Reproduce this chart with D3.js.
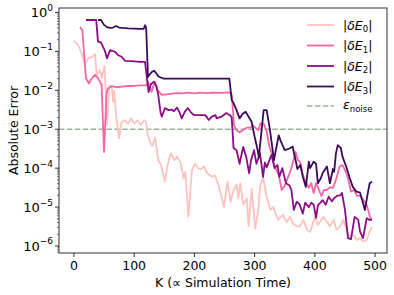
<!DOCTYPE html>
<html>
<head>
<meta charset="utf-8">
<script src="https://cdn.jsdelivr.net/npm/d3@7"></script>
<style>
  body { margin: 0; background: #fff; }
  svg text { font-family: "DejaVu Sans", sans-serif; fill: #000; }
</style>
</head>
<body>
<svg id="chart" width="394" height="295"></svg>
<script>
// K values and absolute errors
const kE0 = [0, 7, 13, 18, 24, 29, 35, 38, 43, 46, 51, 55, 59, 63, 65, 67, 70, 75, 79, 84, 90, 95, 100, 106, 111, 117, 120, 123, 127, 130, 135, 140, 145, 151, 156, 161, 167, 171, 177, 182, 185, 190, 196, 201, 206, 211, 216, 221, 229, 234, 240, 245, 249, 255, 260, 265, 270, 273, 276, 281, 287, 290, 295, 301, 306, 309, 314, 320, 326, 331, 339, 347, 353, 359, 364, 370, 375, 381, 387, 392, 400, 405, 414, 420, 425, 431, 436, 442, 447, 453, 458, 464, 470, 475, 480, 486, 492, 495];
const vE0 = [0.19, 0.146, 0.088, 0.05, 0.066, 0.07, 0.085, 0.025, 0.033, 0.021, 0.042, 0.0013, 0.013, 0.0115, 0.0051, 0.0098, 0.0023, 0.00058, 0.0015, 0.0017, 0.0014, 0.0019, 0.0014, 0.0017, 0.0013, 0.0017, 0.0015, 0.00067, 0.00045, 0.00037, 0.0006, 0.00016, 0.00012, 4.5e-5, 0.00013, 0.00024, 0.00016, 0.0002, 0.00014, 5.5e-5, 8e-5, 5.7e-6, 8.9e-5, 0.00013, 0.0001, 9.5e-5, 0.00011, 7.5e-5, 6e-5, 6.5e-5, 3.7e-5, 1.85e-5, 1.0e-5, 4.5e-5, 1.37e-5, 2.75e-5, 3.8e-5, 1.66e-5, 4.1e-5, 1.15e-5, 1.7e-5, 3.2e-6, 2.95e-5, 2.8e-6, 8.5e-6, 3.3e-5, 6e-5, 1.85e-5, 8.5e-6, 1.0e-5, 4.7e-6, 6.3e-6, 4.1e-6, 5.6e-6, 3.7e-6, 3.2e-6, 3.2e-6, 4.7e-6, 2.6e-6, 2.3e-6, 5.6e-6, 3.5e-6, 5.6e-6, 4.2e-6, 3.2e-6, 4.7e-6, 2.6e-6, 3.2e-6, 4.7e-6, 2.6e-6, 1.8e-6, 1.9e-6, 1.43e-6, 1.6e-6, 1.3e-6, 1.43e-6, 2.6e-6, 3.1e-6];

const kE1 = [10, 14, 20, 25, 29, 35, 40, 46, 50, 54, 56, 63, 70, 80, 90, 100, 110, 120, 123, 129, 134, 139, 146, 154, 170, 180, 190, 200, 210, 220, 230, 245, 258, 262, 266, 270, 275, 281, 287, 293, 297, 302, 306, 310, 315, 320, 324, 329, 333, 340, 345, 350, 355, 360, 365, 368, 372, 376, 380, 385, 390, 394, 398, 402, 407, 411, 415, 420, 425, 430, 436, 441, 446, 450, 455, 460, 465, 470, 475, 480, 486, 492, 495];
const vE1 = [0.42, 0.355, 0.0205, 0.015, 0.0195, 0.025, 0.0205, 0.0137, 0.00026, 0.0076, 0.011, 0.0129, 0.012, 0.0125, 0.0129, 0.013, 0.0134, 0.0134, 0.0167, 0.0092, 0.0167, 0.010, 0.0076, 0.0079, 0.0085, 0.0083, 0.0087, 0.0083, 0.0087, 0.0085, 0.0087, 0.0086, 0.0088, 0.0076, 0.00122, 0.00095, 0.00083, 0.00095, 0.0011, 0.0011, 0.00125, 0.00107, 0.00095, 0.00143, 0.0014, 0.0009, 0.00039, 0.00022, 0.00011, 6.7e-5, 2.75e-5, 3.6e-5, 5.6e-5, 8.9e-5, 0.00017, 0.00026, 0.00016, 0.00014, 6.7e-5, 4.4e-5, 3.1e-5, 4.1e-5, 2.3e-5, 4.1e-5, 2.75e-5, 1.9e-5, 2.75e-5, 2.75e-5, 3.2e-5, 3.1e-5, 5.6e-5, 0.00011, 0.00012, 8.9e-5, 5.6e-5, 2.5e-5, 2.75e-5, 1.95e-5, 1.95e-5, 1.55e-5, 1.15e-5, 5.2e-6, 5e-6];

const kE2 = [20, 30, 37, 40, 45, 51, 55, 60, 68, 73, 79, 85, 95, 110, 118, 124, 128, 133, 137, 140, 144, 146, 151, 157, 162, 166, 171, 175, 179, 184, 189, 195, 200, 210, 218, 224, 229, 235, 237, 245, 253, 259, 262, 265, 270, 275, 281, 286, 291, 294, 299, 303, 309, 314, 317, 320, 328, 333, 338, 341, 346, 352, 358, 361, 365, 370, 375, 380, 384, 390, 394, 398, 402, 405, 413, 418, 423, 428, 432, 437, 442, 445, 450, 455, 460, 466, 472, 475, 480, 486, 490, 495];
const vE2 = [0.64, 0.64, 0.64, 0.178, 0.168, 0.108, 0.066, 0.108, 0.098, 0.081, 0.073, 0.057, 0.056, 0.054, 0.054, 0.009, 0.0145, 0.0167, 0.0129, 0.0076, 0.0026, 0.0021, 0.0035, 0.0031, 0.0032, 0.0029, 0.0036, 0.0028, 0.0019, 0.0028, 0.0035, 0.0026, 0.0023, 0.0023, 0.0023, 0.00173, 0.0021, 0.0023, 0.0019, 0.0021, 0.0026, 0.0023, 0.002, 0.00033, 0.00029, 0.00013, 0.00035, 0.000195, 7.4e-5, 0.00016, 0.00029, 0.00013, 0.00024, 6e-5, 0.00014, 0.000105, 0.00022, 0.0001, 0.00012, 6e-5, 0.0001, 4.1e-5, 3.6e-5, 2.75e-5, 8.5e-6, 1.37e-5, 1.15e-5, 6.8e-6, 1.3e-5, 1.0e-5, 1.3e-5, 1.15e-5, 5.3e-6, 1.1e-5, 1.5e-5, 1.15e-5, 1.85e-5, 1.4e-5, 1.7e-5, 1.95e-5, 2.0e-5, 2.3e-5, 8.5e-6, 1.6e-6, 1.5e-6, 5.6e-6, 4.7e-6, 2.35e-6, 1.6e-6, 5.2e-6, 4.7e-6, 4.7e-6];

const kE3 = [40, 45, 50, 55, 60, 65, 70, 75, 80, 90, 100, 110, 116, 118, 120, 123, 125, 130, 133, 137, 140, 145, 150, 170, 200, 230, 258, 262, 265, 270, 275, 280, 285, 290, 295, 300, 305, 307, 315, 320, 325, 330, 332, 340, 343, 350, 358, 363, 368, 371, 376, 380, 385, 390, 392, 398, 402, 405, 410, 413, 420, 425, 430, 432, 435, 438, 443, 446, 452, 458, 463, 469, 475, 480, 483, 488, 491, 495];
const vE3 = [0.64, 0.64, 0.48, 0.42, 0.40, 0.41, 0.45, 0.41, 0.40, 0.39, 0.385, 0.38, 0.38, 0.47, 0.40, 0.022, 0.025, 0.030, 0.032, 0.027, 0.023, 0.021, 0.020, 0.020, 0.020, 0.020, 0.020, 0.0056, 0.0047, 0.0031, 0.0019, 0.00245, 0.0028, 0.0021, 0.00155, 0.00064, 0.00029, 0.00019, 0.0031, 0.0031, 0.00107, 0.00029, 0.00016, 0.0007, 0.00051, 0.00029, 0.00032, 0.00036, 0.00016, 9.5e-5, 0.00012, 6e-5, 3.3e-5, 0.000146, 0.0001, 0.000146, 0.00013, 4.1e-5, 5.6e-5, 7.5e-5, 0.00011, 4.1e-5, 9.5e-5, 8e-5, 0.00024, 0.00039, 0.00033, 0.000195, 0.00011, 5.5e-5, 3.3e-5, 2.5e-5, 2.35e-5, 1.25e-5, 8.4e-6, 2.35e-5, 4.1e-5, 4.5e-5];

const noiseLevel = 1e-3;
const seriesNames = ["0", "1", "2", "3"];
const xTicks = [0, 100, 200, 300, 400, 500];
const yTickExps = [-6, -5, -4, -3, -2, -1, 0];

const colors = ["#fcc3bf", "#f466a3", "#8c0b86", "#3b0b5c"];
const noiseColor = "#98b69b";

const series = [
  { k: kE0, v: vE0 },
  { k: kE1, v: vE1 },
  { k: kE2, v: vE2 },
  { k: kE3, v: vE3 }
];

const margin = { left: 59, right: 387, top: 8, bottom: 253 };

const svg = d3.select("#chart");

const x = d3.scaleLinear()
    .domain([-24.75, 519.75])
    .range([margin.left, margin.right]);

const y = d3.scaleLog()
    .domain([Math.pow(10, -6.18), Math.pow(10, 0.115)])
    .range([margin.bottom, margin.top]);

const plot = svg.append("g");

plot.append("defs").append("clipPath").attr("id", "clip")
  .append("rect")
    .attr("x", margin.left).attr("y", margin.top)
    .attr("width", margin.right - margin.left)
    .attr("height", margin.bottom - margin.top);

const line = d3.line()
    .x(d => x(d[0]))
    .y(d => y(d[1]));

// noise floor
plot.append("line")
    .attr("x1", margin.left).attr("x2", margin.right)
    .attr("y1", y(noiseLevel)).attr("y2", y(noiseLevel))
    .attr("stroke", noiseColor)
    .attr("stroke-width", 1.6)
    .attr("stroke-dasharray", "5.5,2.4");

const lines = plot.append("g").attr("clip-path", "url(#clip)");
series.forEach((s, i) => {
  lines.append("path")
      .datum(d3.zip(s.k, s.v))
      .attr("fill", "none")
      .attr("stroke", colors[i])
      .attr("stroke-width", 1.8)
      .attr("stroke-linejoin", "round")
      .attr("d", line);
});

// frame
svg.append("rect")
    .attr("x", margin.left).attr("y", margin.top)
    .attr("width", margin.right - margin.left)
    .attr("height", margin.bottom - margin.top)
    .attr("fill", "none")
    .attr("stroke", "#333")
    .attr("stroke-width", 1);

// x axis
const xAxis = svg.append("g");
xTicks.forEach(t => {
  xAxis.append("line")
      .attr("x1", x(t)).attr("x2", x(t))
      .attr("y1", margin.bottom).attr("y2", margin.bottom + 4)
      .attr("stroke", "#333");
  xAxis.append("text")
      .attr("x", x(t)).attr("y", margin.bottom + 17)
      .attr("text-anchor", "middle")
      .attr("font-size", 12.5)
      .text(t);
});

// y axis, major + minor ticks
const yAxis = svg.append("g");
yTickExps.forEach(e => {
  const yy = y(Math.pow(10, e));
  yAxis.append("line")
      .attr("x1", margin.left - 4).attr("x2", margin.left)
      .attr("y1", yy).attr("y2", yy)
      .attr("stroke", "#333");
  const t = yAxis.append("text")
      .attr("x", margin.left - 6).attr("y", yy + 5)
      .attr("text-anchor", "end")
      .attr("font-size", 13);
  t.append("tspan").text("10");
  t.append("tspan")
      .attr("dy", -6.5)
      .attr("font-size", 9)
      .text(e === 0 ? "0" : "\u2212" + (-e));
});
for (let e = -7; e <= 0; e++) {
  for (let m = 2; m <= 9; m++) {
    const v = m * Math.pow(10, e);
    if (v < y.domain()[0] || v > y.domain()[1]) continue;
    yAxis.append("line")
        .attr("x1", margin.left - 2).attr("x2", margin.left)
        .attr("y1", y(v)).attr("y2", y(v))
        .attr("stroke", "#333")
        .attr("stroke-width", 0.7);
  }
}

// axis labels
svg.append("text")
    .attr("x", (margin.left + margin.right) / 2)
    .attr("y", 287)
    .attr("text-anchor", "middle")
    .attr("font-size", 12.5)
    .text("K (\u221D Simulation Time)");

svg.append("text")
    .attr("transform", `translate(18, ${(margin.top + margin.bottom) / 2}) rotate(-90)`)
    .attr("text-anchor", "middle")
    .attr("font-size", 12.5)
    .text("Absolute Error");

// legend
const legend = svg.append("g");
const rowY = [25, 45.5, 66, 86.5, 106];
seriesNames.forEach((n, i) => {
  legend.append("line")
      .attr("x1", 307).attr("x2", 334)
      .attr("y1", rowY[i]).attr("y2", rowY[i])
      .attr("stroke", colors[i])
      .attr("stroke-width", 1.8);
  const t = legend.append("text")
      .attr("x", 343).attr("y", rowY[i] + 4.5)
      .attr("font-size", 12.5);
  t.append("tspan").text("|");
  t.append("tspan").attr("font-style", "italic").text("\u03B4E");
  t.append("tspan").attr("font-size", 8.5).attr("dy", 2.5).text(n);
  t.append("tspan").attr("dy", -2.5).text("|");
});
legend.append("line")
    .attr("x1", 307).attr("x2", 334)
    .attr("y1", rowY[4]).attr("y2", rowY[4])
    .attr("stroke", noiseColor)
    .attr("stroke-width", 1.6)
    .attr("stroke-dasharray", "5.5,2.4");
const nt = legend.append("text")
    .attr("x", 343).attr("y", rowY[4] + 3)
    .attr("font-size", 12.5);
nt.append("tspan").attr("font-style", "italic").text("\u03B5");
nt.append("tspan").attr("font-size", 8.5).attr("dy", 2.5).text("noise");
</script>
</body>
</html>
